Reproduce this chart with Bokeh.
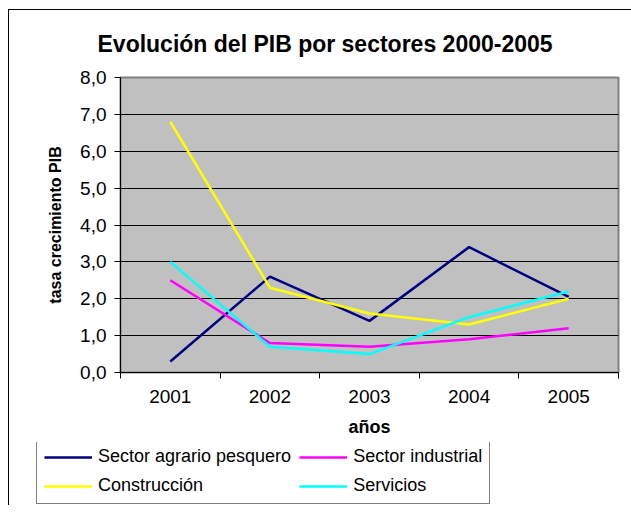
from bokeh.plotting import figure
from bokeh.models import (Range1d, FixedTicker, Legend, LegendItem)
from bokeh.embed import file_html
from bokeh.resources import INLINE

# ---- data ----
years = ["2001", "2002", "2003", "2004", "2005"]
agrario = [0.3, 2.6, 1.4, 3.4, 2.05]
industrial = [2.5, 0.8, 0.7, 0.9, 1.2]
construccion = [6.8, 2.3, 1.6, 1.3, 2.0]
servicios = [3.0, 0.7, 0.5, 1.5, 2.2]
y_ticks = [0, 1, 2, 3, 4, 5, 6, 7, 8]
series_names = ["Sector agrario pesquero", "Sector industrial", "Construcción", "Servicios"]
series_colors = ["#000080", "#FF00FF", "#FFFF00", "#00FFFF"]
series_values = [agrario, industrial, construccion, servicios]

FONT = "Liberation Sans"
xpos = list(range(1, len(years) + 1))

p = figure(
    frame_width=498, frame_height=295,
    min_border_left=111, min_border_right=13,
    min_border_top=67, min_border_bottom=70,
    x_range=Range1d(0.5, len(years) + 0.5),
    y_range=Range1d(0, 8),
    output_backend="svg", toolbar_location=None,
    title="Evolución del PIB por sectores 2000-2005",
)
p.styles = {"margin-left": "8px", "margin-top": "9px",
            "border-left": "1px solid black", "border-top": "1px solid black"}

p.background_fill_color = "#C0C0C0"
p.border_fill_color = "white"
p.outline_line_color = "#808080"
p.outline_line_width = 2

p.title.align = "left"
p.title.offset = -23
p.title.vertical_align = "top"
p.title.text_font = FONT
p.title.text_font_size = "23px"
p.title.text_font_style = "bold"
p.title.text_color = "black"
p.title.standoff = 38

# x axis
xa = p.xaxis[0]
xa.ticker = FixedTicker(ticks=xpos, minor_ticks=[x - 0.5 for x in xpos] + [xpos[-1] + 0.5])
xa.major_label_overrides = {x: y for x, y in zip(xpos, years)}
xa.major_tick_out = 0
xa.major_tick_in = 0
xa.minor_tick_out = 6
xa.minor_tick_in = 0
xa.minor_tick_line_color = "black"
xa.axis_line_color = "black"
xa.major_label_text_font = FONT
xa.major_label_text_font_size = "19px"
xa.major_label_text_color = "black"
xa.major_label_standoff = 11
xa.axis_label = "años"
xa.axis_label_text_font = FONT
xa.axis_label_text_font_size = "18px"
xa.axis_label_text_font_style = "bold"
xa.axis_label_text_color = "black"
xa.axis_label_standoff = 11

# y axis
ya = p.yaxis[0]
ya.ticker = FixedTicker(ticks=y_ticks)
ya.major_label_overrides = {t: f"{t},0" for t in y_ticks}
ya.major_tick_out = 6
ya.major_tick_in = 0
ya.minor_tick_line_color = None
ya.axis_line_color = "black"
ya.major_label_text_font = FONT
ya.major_label_text_font_size = "19px"
ya.major_label_text_color = "black"
ya.major_label_standoff = 8
ya.axis_label = "tasa crecimiento PIB"
ya.axis_label_text_font = FONT
ya.axis_label_text_font_size = "16px"
ya.axis_label_text_font_style = "bold"
ya.axis_label_text_color = "black"
ya.axis_label_standoff = 13

p.xgrid.grid_line_color = None
p.ygrid.grid_line_color = "black"
p.ygrid.grid_line_width = 1

for name, vals, col in zip(series_names, series_values, series_colors):
    p.line(xpos, vals, line_color=col, line_width=2.5)

# legend strip below the chart (own canvas so the box can extend left of the plot area)
pl = figure(
    width=622, height=63, min_border=0,
    x_range=Range1d(-20, -10), y_range=Range1d(-20, -10),
    x_axis_location=None, y_axis_location=None,
    output_backend="svg", toolbar_location=None,
)
pl.styles = {"margin-left": "8px", "border-left": "1px solid black"}
pl.outline_line_color = None
pl.background_fill_color = "white"
pl.border_fill_color = "white"
pl.grid.visible = False

items = []
for name, vals, col in zip(series_names, series_values, series_colors):
    r = pl.line(xpos, vals, line_color=col, line_width=2.5)
    items.append(LegendItem(label=name, renderers=[r]))

legend = Legend(items=items, location=(27, 1), orientation="horizontal", ncols=2)
legend.label_text_font = FONT
legend.label_text_font_size = "18px"
legend.label_text_color = "black"
legend.border_line_color = "black"
legend.border_line_width = 1
legend.background_fill_color = "white"
legend.background_fill_alpha = 1
legend.glyph_width = 48
legend.glyph_height = 20
legend.label_standoff = 6
legend.padding = 7
legend.spacing = 8
legend.margin = 0
pl.add_layout(legend, "center")

open("out.html", "w").write(file_html([p, pl], INLINE))
